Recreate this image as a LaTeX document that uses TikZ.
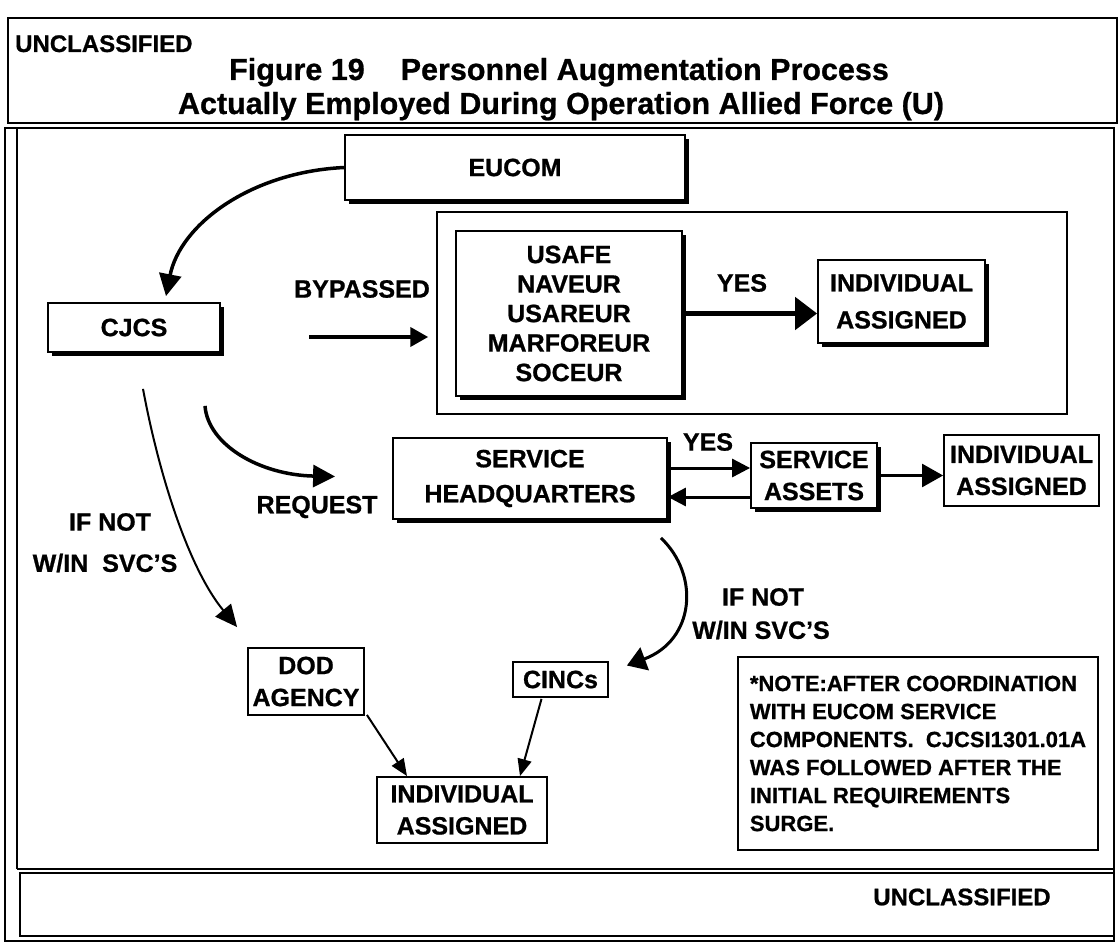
\documentclass[tikz,border=0pt]{standalone}
\usepackage{fontspec}
\setmainfont{Liberation Sans}[BoldFeatures={FakeBold=0.8}]
\usetikzlibrary{arrows.meta,calc,shadows}
\newcommand\diaglbl{\fontsize{25}{33}\selectfont\bfseries}
\newcommand\notelbl{\fontsize{22}{28}\selectfont\bfseries}
\newcommand\titlelbl{\fontsize{30.5}{36}\selectfont\bfseries}
\newcommand\unclbl{\fontsize{24}{28}\selectfont\bfseries}
\begin{document}
\begin{tikzpicture}[x=1pt,y=-1pt,
  bx/.style={draw,line width=1.8pt,fill=white,inner sep=0pt,align=center,font=\diaglbl},
  shd/.style={drop shadow={shadow xshift=4pt,shadow yshift=-4pt,fill=black,opacity=1}},
  lbl/.style={inner sep=0pt,align=center,font=\diaglbl},
  frame/.style={draw,line width=2pt},
  bigarr/.style={line width=3.5pt,-{Triangle[length=22pt,width=22pt]}},
  midarr/.style={line width=3pt,-{Triangle[length=18pt,width=18pt]}},
  thinarr/.style={line width=2pt,-{Triangle[length=17pt,width=14pt]}}
]
\useasboundingbox (0,0) rectangle (1120,944);
\fill[white] (0,0) rectangle (1120,944);

% title box
\draw[frame] (8,18) rectangle (1117,123);
\node[anchor=base west,inner sep=0pt,font=\unclbl] (unc1) at (15,52) {UNCLASSIFIED};
\node[anchor=base,inner sep=0pt,font=\titlelbl] (t1) at (559,80) {Figure 19\hspace{36pt}Personnel Augmentation Process};
\node[anchor=base,inner sep=0pt,font=\titlelbl] (t2) at (561,114) {Actually Employed During Operation Allied Force (U)};

% main frame
\draw[frame] (5,128) rectangle (1114,941);
\draw[line width=1.5pt] (17,128) -- (17,869);
\draw[line width=2.5pt] (17,869) -- (1114,869);
\draw[frame] (20,873) rectangle (1114,936);
\node[inner sep=0pt,font=\unclbl] (unc2) at (962,897) {UNCLASSIFIED};

% boxes
\node[bx,shd,minimum width=340pt,minimum height=65pt] (eucom) at (515,167.5) {EUCOM};
\node[bx,shd,minimum width=172pt,minimum height=49pt] (cjcs) at (134,327.5) {CJCS};
\node[bx,line width=1.5pt,minimum width=630pt,minimum height=202pt] (outer) at (752,313) {};
\node[bx,shd,minimum width=226pt,minimum height=165pt,font=\fontsize{25}{29.5}\selectfont\bfseries] (usafe) at (569,313.5) {USAFE\\NAVEUR\\USAREUR\\MARFOREUR\\SOCEUR};
\node[bx,shd,minimum width=167pt,minimum height=83pt,font=\fontsize{25}{37}\selectfont\bfseries] (ind1) at (901.5,301.5) {INDIVIDUAL\\ASSIGNED};
\node[bx,shd,minimum width=274pt,minimum height=81pt,font=\fontsize{25}{35}\selectfont\bfseries] (shq) at (530,478.5) {SERVICE\\HEADQUARTERS};
\node[bx,shd,minimum width=126pt,minimum height=65pt,font=\fontsize{25}{32}\selectfont\bfseries] (sa) at (814,475.5) {SERVICE\\ASSETS};
\node[bx,minimum width=155pt,minimum height=71pt,font=\fontsize{25}{32}\selectfont\bfseries] (ind2) at (1021.5,470.5) {INDIVIDUAL\\ASSIGNED};
\node[bx,minimum width=116pt,minimum height=67pt,font=\fontsize{25}{32}\selectfont\bfseries] (dod) at (306,681.5) {DOD\\AGENCY};
\node[bx,minimum width=95pt,minimum height=35pt] (cincs) at (560.5,679.5) {CINCs};
\node[bx,minimum width=170pt,minimum height=66pt,font=\fontsize{25}{32}\selectfont\bfseries] (ind3) at (462,810) {INDIVIDUAL\\ASSIGNED};
\node[bx,minimum width=360pt,minimum height=193pt,align=left,font=\notelbl] (note) at (918,753.5) {*NOTE:AFTER COORDINATION\\WITH EUCOM SERVICE\\COMPONENTS.\ \ CJCSI1301.01A\\WAS FOLLOWED AFTER THE\\INITIAL REQUIREMENTS\\SURGE.};

% labels
\node[lbl] (bypassed) at (362,289) {BYPASSED};
\node[lbl] (yes1) at (742,283) {YES};
\node[lbl] (yes2) at (708,442) {YES};
\node[lbl] (request) at (317,507) {REQUEST};
\node[lbl] (ifnot1) at (110,522) {IF NOT};
\node[lbl] (win1) at (105,563) {W/IN\hspace{14pt}SVC'S};
\node[lbl] (ifnot2) at (763,597) {IF NOT};
\node[lbl] (win2) at (761,630) {W/IN SVC'S};

% connectors
\coordinate (bpstart) at (309,337);
\draw[bigarr] (eucom.west) .. controls (250,172) and (180,225) .. ($(cjcs.north)+(32,-6)$);
\draw[line width=4pt,-{Triangle[length=18pt,width=19pt]}] (bpstart) -- ($(outer.west)+(-8,24)$);
\draw[line width=5pt,-{Triangle[length=22pt,width=32pt]}] (usafe.east) -- (usafe.east -| ind1.west);
\draw[bigarr] ($(cjcs.south)+(71,53)$) .. controls (208,445) and (260,475) .. ($(shq.west)+(-57,-2)$);
\draw[line width=2pt,-{Triangle[length=22pt,width=20pt]}] ($(cjcs.south)+(9,36)$) .. controls (160,480) and (190,570) .. ($(dod.north west)+(-10,-20)$);
\draw[midarr] ($(shq.east)+(0,-10.5)$) -- ($(sa.west)+(0,-7.5)$);
\draw[midarr] ($(sa.west)+(0,21.5)$) -- ($(shq.east)+(0,18.5)$);
\draw[line width=2.5pt,-{Triangle[length=21pt,width=23pt]}] (sa.east) -- (sa.east -| ind2.west);
\draw[line width=3pt,-{Triangle[length=19pt,width=24pt]}] ($(shq.south east)+(-7,18)$) .. controls (700,575) and (695,640) .. ($(cincs.east)+(18,-14)$);
\draw[thinarr] ($(dod.south east)+(2,-1)$) -- ($(ind3.north)+(-55,0)$);
\draw[thinarr] ($(cincs.south)+(-19,1)$) -- ($(ind3.north)+(58,0)$);
\end{tikzpicture}
\end{document}
